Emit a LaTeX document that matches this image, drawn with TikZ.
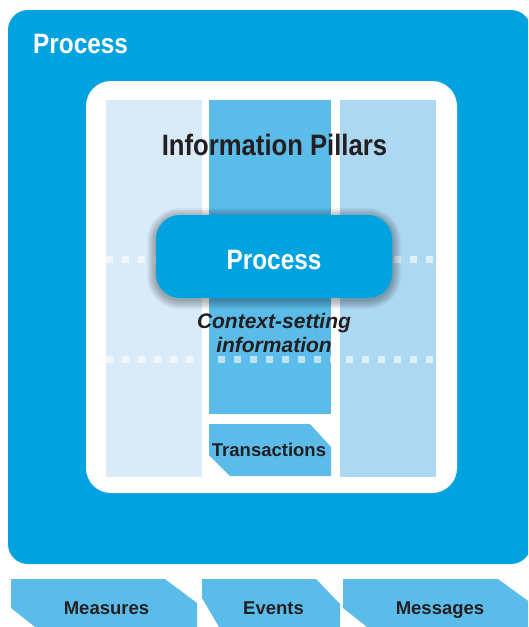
\documentclass[tikz,border=0pt]{standalone}
\usepackage{fontspec}
\setmainfont{Liberation Sans}
\newfontfamily\condfont[FakeStretch=0.87]{Liberation Sans}

\definecolor{procblue}{HTML}{00A3E0}
\definecolor{pillarA}{HTML}{D9EBF8}
\definecolor{pillarB}{HTML}{5BBCEA}
\definecolor{pillarC}{HTML}{ADD8F2}
\definecolor{inktext}{HTML}{231F20}

\tikzset{
  headline/.style={inner sep=0pt, font=\condfont\bfseries\fontsize{28}{30}\selectfont},
  pill/.style={rectangle, rounded corners=24pt, fill=procblue, minimum width=236pt,
    minimum height=83pt, inner sep=0pt, text=white, text height=25pt, text depth=0pt,
    font=\condfont\bfseries\fontsize{28}{30}\selectfont},
  softshade/.style={fill=black, opacity=0.035},
  tabshape/.style={fill=pillarB},
  tablabel/.style={inner sep=0pt, text=inktext, font=\bfseries\fontsize{18.5}{20}\selectfont},
  gapdot/.style={fill=white, opacity=0.6},
}

\begin{document}
\begin{tikzpicture}[x=1pt,y=-1pt]
  \useasboundingbox (0,0) rectangle (528,627);
  \clip (0,0) rectangle (528,627);

  \fill[procblue, rounded corners=20pt] (8,10) rectangle (531,564);
  \fill[white, rounded corners=25pt] (86,81) rectangle (457,493);

  \fill[pillarA] (106,100) rectangle (202,477);
  \fill[pillarB] (209,100) rectangle (331,414);
  \fill[pillarC] (340,100) rectangle (436,477);

  \foreach \y in {259,359}
    \foreach \x in {106,122,...,426}
      \fill[gapdot] (\x,\y-3.5) rectangle ++(7,7);

  \node[headline, text=white, anchor=base west] (title) at (33,53) {Process};
  \node[headline, text=inktext, anchor=base, font=\condfont\bfseries\fontsize{29.5}{31}\selectfont]
    (pillars) at (274.5,155) {Information Pillars};

  % soft shadow under the process pill
  \foreach \k in {1,...,9}
    \fill[softshade, rounded corners=24pt+\k pt] (156-\k,217-\k) rectangle (392+\k,300+\k);
  \node[pill] (core) at (274,256.5) {Process};
  \node[inner sep=0pt, anchor=base, align=center, text=inktext,
        font=\bfseries\itshape\fontsize{21}{24}\selectfont] (context) at (274,352)
        {Context-setting\\information};

  \fill[tabshape] (209,424) -- (310,424) -- (331,447) -- (331,476) -- (230,476) -- (209,455) -- cycle;
  \node[tablabel, anchor=base] (trans) at (269,456) {Transactions};

  \fill[tabshape] (11,579) -- (165,579) -- (197,603) -- (197,627) -- (35,627) -- (11,608) -- cycle;
  \fill[tabshape] (202,579) -- (316,579) -- (340,604) -- (340,627) -- (219,627) -- (202,598) -- cycle;
  \fill[tabshape] (343,579) -- (498,579) -- (531,603) -- (531,627) -- (367,627) -- (343,608) -- cycle;
  \node[tablabel, anchor=base] (measures) at (106.5,614) {Measures};
  \node[tablabel, anchor=base] (events) at (273.5,614) {Events};
  \node[tablabel, anchor=base] (messages) at (440,614) {Messages};
\end{tikzpicture}
\end{document}
